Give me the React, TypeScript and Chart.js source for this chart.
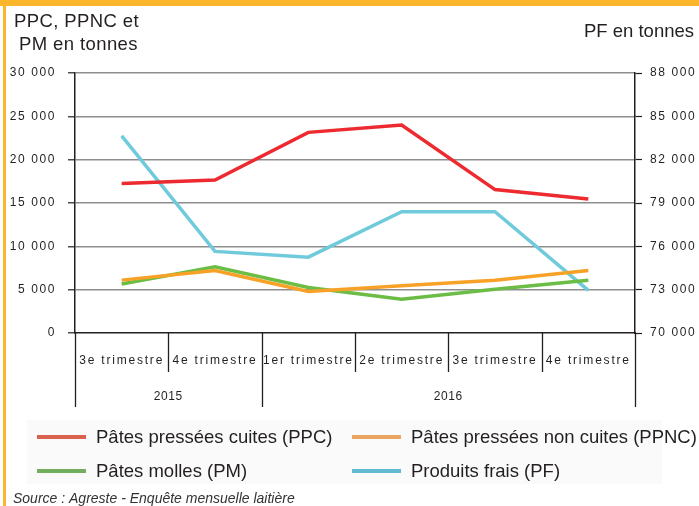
import React, { useEffect, useRef } from "react";
import { Chart, registerables } from "chart.js";

Chart.register(...registerables);

const categories = ["3e trimestre", "4e trimestre", "1er trimestre", "2e trimestre", "3e trimestre", "4e trimestre"];
const years = ["2015", "2016"];
const yearSpans = [2, 4];

const ppc = [17250, 17650, 23150, 24000, 16550, 15450];
const ppnc = [6100, 7200, 4800, 5450, 6100, 7200];
const pm = [5650, 7650, 5250, 3900, 5050, 6100];
const pf = [83650, 75650, 75250, 78400, 78400, 72950];

const seriesNames = [
  "Pâtes pressées cuites (PPC)",
  "Pâtes pressées non cuites (PPNC)",
  "Pâtes molles (PM)",
  "Produits frais (PF)",
];

const leftTitle = ["PPC, PPNC et", "PM en tonnes"];
const rightTitle = "PF en tonnes";
const sourceText = "Source : Agreste - Enquête mensuelle laitière";

const FONT = "'Liberation Sans', Arial, sans-serif";
const W = 699;
const H = 506;

const lineColors = ["#ED2A2F", "#F7A227", "#6CBD45", "#6FCBDC"];
const legendColors = ["#D9614D", "#EAA660", "#72AE5E", "#60BBD2"];

const fmt = (v: number) => String(v).replace(/\B(?=(\d{3})+(?!\d))/g, " ");

export default function App() {
  const ref = useRef<HTMLCanvasElement>(null);

  useEffect(() => {
    if (!ref.current) return;

    const decor = {
      id: "decor",
      beforeDraw(chart: any) {
        const c = chart.ctx;
        c.save();
        c.fillStyle = "#ffffff";
        c.fillRect(0, 0, W, H);
        c.fillStyle = "#fafafa";
        c.fillRect(27, 420, 635, 64);
        c.restore();
        (c as any).letterSpacing = "1.6px";
      },
      beforeDatasetsDraw(chart: any) {
        (chart.ctx as any).letterSpacing = "0px";
      },
      afterDraw(chart: any) {
        const c = chart.ctx;
        const x = chart.scales.x;
        const area = chart.chartArea;
        c.save();
        (c as any).letterSpacing = "0px";
        // orange frame
        c.fillStyle = "#FBB62B";
        c.fillRect(0, 0, W, 6);
        c.fillRect(3, 0, 3, H);

        // titles
        c.fillStyle = "#231F20";
        c.font = `18.5px ${FONT}`;
        c.textAlign = "left";
        c.textBaseline = "alphabetic";
        (c as any).letterSpacing = "0.4px";
        c.fillText(leftTitle[0], 14, 27);
        c.fillText(leftTitle[1], 19, 50);
        (c as any).letterSpacing = "0px";
        c.textAlign = "right";
        c.fillText(rightTitle, 694, 37);

        // x axis dividers and labels
        const half = (x.getPixelForValue(1) - x.getPixelForValue(0)) / 2;
        c.strokeStyle = "#231F20";
        c.lineWidth = 1.3;
        const yearStarts: number[] = [0];
        let acc = 0;
        yearSpans.forEach((s) => {
          acc += s;
          yearStarts.push(acc);
        });
        for (let i = 0; i <= categories.length; i++) {
          const px = Math.round(x.getPixelForValue(i) - half) + 0.5;
          const isYear = yearStarts.includes(i);
          c.beginPath();
          c.moveTo(px, area.bottom);
          c.lineTo(px, isYear ? area.bottom + 74 : area.bottom + 39);
          c.stroke();
        }
        c.fillStyle = "#231F20";
        c.font = `12px ${FONT}`;
        c.textAlign = "center";
        c.textBaseline = "middle";
        (c as any).letterSpacing = "1.8px";
        categories.forEach((lab, i) => {
          c.fillText(lab, x.getPixelForValue(i), area.bottom + 28);
        });
        (c as any).letterSpacing = "0.6px";
        years.forEach((y, k) => {
          const a = yearStarts[k];
          const b = yearStarts[k + 1];
          const cx = (x.getPixelForValue(a) - half + x.getPixelForValue(b - 1) + half) / 2;
          c.fillText(y, cx, area.bottom + 64);
        });
        (c as any).letterSpacing = "0px";

        // legend
        const pos = [
          [37, 437],
          [352, 437],
          [37, 471],
          [352, 471],
        ];
        c.font = `18.5px ${FONT}`;
        c.textAlign = "left";
        c.textBaseline = "middle";
        seriesNames.forEach((n, i) => {
          const [lx, ly] = pos[i];
          c.strokeStyle = legendColors[i];
          c.lineWidth = 4;
          c.beginPath();
          c.moveTo(lx, ly);
          c.lineTo(lx + 49, ly);
          c.stroke();
          c.fillStyle = "#231F20";
          c.fillText(n, lx + 59, ly + 1);
        });

        // source
        c.font = `italic 14px ${FONT}`;
        c.fillStyle = "#333333";
        c.textBaseline = "alphabetic";
        c.fillText(sourceText, 13, 503);
        c.restore();
      },
    };

    const chart = new Chart(ref.current, {
      type: "line",
      data: {
        labels: categories,
        datasets: [
          { label: seriesNames[0], data: ppc, yAxisID: "y", borderColor: lineColors[0], backgroundColor: lineColors[0] },
          { label: seriesNames[1], data: ppnc, yAxisID: "y", borderColor: lineColors[1], backgroundColor: lineColors[1] },
          { label: seriesNames[2], data: pm, yAxisID: "y", borderColor: lineColors[2], backgroundColor: lineColors[2] },
          { label: seriesNames[3], data: pf, yAxisID: "y1", borderColor: lineColors[3], backgroundColor: lineColors[3] },
        ].map((d) => ({ ...d, borderWidth: 3.5, pointRadius: 0, tension: 0, fill: false })),
      },
      options: {
        responsive: false,
        animation: false,
        devicePixelRatio: 1,
        layout: { padding: { top: 73, bottom: 73, left: 0, right: 0 } },
        plugins: { legend: { display: false }, tooltip: { enabled: false }, title: { display: false } },
        scales: {
          x: {
            type: "category",
            offset: true,
            grid: { display: false, drawTicks: false },
            border: { display: true, color: "#231F20", width: 1.5 },
            ticks: { display: false },
            afterFit: (s: any) => {
              s.height = 100;
            },
          },
          y: {
            position: "left",
            min: 0,
            max: 30000,
            ticks: {
              stepSize: 5000,
              padding: 12,
              color: "#231F20",
              font: { family: FONT, size: 12 },
              callback: (v: any) => fmt(Number(v)),
            },
            grid: {
              color: (ctx: any) => (ctx.tick && ctx.tick.value === 0 ? "rgba(0,0,0,0)" : "#8E8E8E"),
              lineWidth: 1.6,
              tickLength: 7,
              tickColor: "#231F20",
              tickWidth: 1.2,
            },
            border: { display: true, color: "#231F20", width: 1.5 },
            afterFit: (s: any) => {
              s.width = 75;
            },
          },
          y1: {
            position: "right",
            min: 70000,
            max: 88000,
            ticks: {
              stepSize: 3000,
              padding: 8,
              color: "#231F20",
              font: { family: FONT, size: 12 },
              callback: (v: any) => fmt(Number(v)),
            },
            grid: {
              drawOnChartArea: false,
              tickLength: 7,
              tickColor: "#231F20",
              tickWidth: 1.2,
            },
            border: { display: true, color: "#231F20", width: 1.5 },
            afterFit: (s: any) => {
              s.width = 64;
            },
          },
        },
      },
      plugins: [decor],
    } as any);

    return () => chart.destroy();
  }, []);

  return (
    <div style={{ position: "fixed", left: 0, top: 0, width: W, height: H }}>
      <canvas ref={ref} width={W} height={H} style={{ width: W, height: H, display: "block" }} />
    </div>
  );
}
